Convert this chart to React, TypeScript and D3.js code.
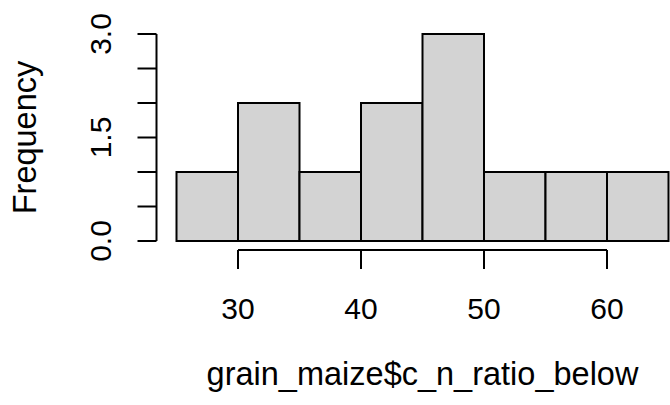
import * as d3 from "d3";
import React, { useEffect, useRef } from "react";

// histogram of grain_maize$c_n_ratio_below
const binStarts = [25, 30, 35, 40, 45, 50, 55, 60];
const binWidth = 5;
const counts = [1, 2, 1, 2, 3, 1, 1, 1];
const xTicks = [30, 40, 50, 60];
const yTicks = [0, 0.5, 1, 1.5, 2, 2.5, 3];
const yTickLabels = ["0.0", "1.5", "3.0"];

const WIDTH = 670;
const HEIGHT = 405;
const FONT = "'Liberation Sans', Arial, sans-serif";

const App = () => {
    const svgRef = useRef<SVGSVGElement>(null);

    useEffect(() => {
        const svg = d3.select(svgRef.current);
        svg.selectAll("*").remove();

        const xScale = d3.scaleLinear().domain([25, 65]).range([176.5, 668.5]);
        const yScale = d3.scaleLinear().domain([0, 3]).range([241, 34]);

        // bars
        svg.append("g")
            .selectAll("rect")
            .data(binStarts)
            .enter()
            .append("rect")
            .attr("x", (d: number) => xScale(d))
            .attr("y", (d: number, i: number) => yScale(counts[i]))
            .attr("width", xScale(binWidth) - xScale(0))
            .attr("height", (d: number, i: number) => yScale(0) - yScale(counts[i]))
            .style("fill", "#d3d3d3")
            .style("stroke", "#000")
            .style("stroke-width", 2);

        // x axis
        const xAxisY = 250;
        const xg = svg.append("g").style("stroke", "#000").style("stroke-width", 2);
        xg.append("line")
            .attr("x1", xScale(xTicks[0]))
            .attr("x2", xScale(xTicks[xTicks.length - 1]))
            .attr("y1", xAxisY)
            .attr("y2", xAxisY);
        xg.selectAll(".x-tick")
            .data(xTicks)
            .enter()
            .append("line")
            .attr("class", "x-tick")
            .attr("x1", (d: number) => xScale(d))
            .attr("x2", (d: number) => xScale(d))
            .attr("y1", xAxisY)
            .attr("y2", xAxisY + 19);
        svg.selectAll(".x-label")
            .data(xTicks)
            .enter()
            .append("text")
            .attr("class", "x-label")
            .attr("x", (d: number) => xScale(d))
            .attr("y", 319)
            .attr("text-anchor", "middle")
            .style("font-family", FONT)
            .style("font-size", "30px")
            .text((d: number) => String(d));

        // y axis
        const yAxisX = 156.5;
        const yg = svg.append("g").style("stroke", "#000").style("stroke-width", 2);
        yg.append("line")
            .attr("x1", yAxisX)
            .attr("x2", yAxisX)
            .attr("y1", yScale(yTicks[0]))
            .attr("y2", yScale(yTicks[yTicks.length - 1]));
        yg.selectAll(".y-tick")
            .data(yTicks)
            .enter()
            .append("line")
            .attr("class", "y-tick")
            .attr("x1", yAxisX - 19)
            .attr("x2", yAxisX)
            .attr("y1", (d: number) => yScale(d))
            .attr("y2", (d: number) => yScale(d));
        svg.selectAll(".y-label")
            .data(yTickLabels)
            .enter()
            .append("text")
            .attr("class", "y-label")
            .attr("transform", (d: string) => `translate(111,${yScale(+d)}) rotate(-90)`)
            .attr("text-anchor", "middle")
            .style("font-family", FONT)
            .style("font-size", "30px")
            .text((d: string) => d);

        // axis titles
        svg.append("text")
            .attr("x", (xScale(25) + xScale(65)) / 2)
            .attr("y", 385)
            .attr("text-anchor", "middle")
            .style("font-family", FONT)
            .style("font-size", "32.5px")
            .text("grain_maize$c_n_ratio_below");
        svg.append("text")
            .attr("transform", `translate(36,${(yScale(0) + yScale(3)) / 2}) rotate(-90)`)
            .attr("text-anchor", "middle")
            .style("font-family", FONT)
            .style("font-size", "32.5px")
            .text("Frequency");
    }, []);

    return (
        <svg ref={svgRef} width={WIDTH} height={HEIGHT}
            style={{ position: "absolute", left: 0, top: 0, background: "#fff" }} />
    );
};

export default App;
